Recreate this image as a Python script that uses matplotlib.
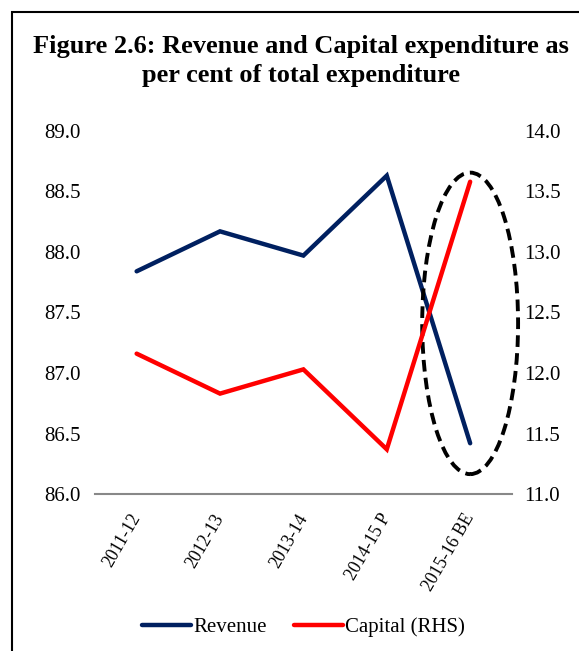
import matplotlib
matplotlib.use("Agg")
import matplotlib.pyplot as plt
from matplotlib.patches import Ellipse, Rectangle
from matplotlib.transforms import ScaledTranslation
import numpy as np

categories = ["2011-12", "2012-13", "2013-14", "2014-15 P", "2015-16 BE"]
revenue = [87.84, 88.17, 87.97, 88.63, 86.42]
capital = [12.16, 11.83, 12.03, 11.37, 13.58]
left_ticks = [86.0, 86.5, 87.0, 87.5, 88.0, 88.5, 89.0]
right_ticks = [11.0, 11.5, 12.0, 12.5, 13.0, 13.5, 14.0]

plt.rcParams['font.family'] = ['Liberation Serif', 'DejaVu Serif']

fig = plt.figure(figsize=(5.79, 6.51), dpi=100)
ax = fig.add_axes([0.164, 0.241, 0.720, 0.558])
ax2 = ax.twinx()

x = np.arange(len(categories))
l1, = ax.plot(x, revenue, color="#002060", lw=3.2, solid_capstyle="round", solid_joinstyle="miter", label="Revenue")
l2, = ax2.plot(x, capital, color="#FF0000", lw=3.2, solid_capstyle="round", solid_joinstyle="miter", label="Capital (RHS)")

ax.set_xlim(-0.5, len(categories) - 0.5)
ax.set_ylim(86.0, 89.0)
ax2.set_ylim(11.0, 14.0)
ax.set_yticks(left_ticks)
ax.set_yticklabels([f"{v:.1f}" for v in left_ticks])
ax2.set_yticks(right_ticks)
ax2.set_yticklabels([f"{v:.1f}" for v in right_ticks])
ax.set_xticks(x)
ax.set_xticklabels(categories, rotation=60, ha="right", va="top", rotation_mode="anchor")

for a in (ax, ax2):
    for s in a.spines.values():
        s.set_visible(False)
    a.tick_params(length=0, labelsize=15)
ax.spines["bottom"].set_visible(True)
ax.spines["bottom"].set_color("#888888")
ax.spines["bottom"].set_linewidth(1.5)
ax.tick_params(axis="y", pad=10)
ax2.tick_params(axis="y", pad=9)
ax.tick_params(axis="x", pad=12, labelsize=12.8)
offset = ScaledTranslation(-7 / 100, 0, fig.dpi_scale_trans)
for lbl in ax.get_xticklabels():
    lbl.set_transform(lbl.get_transform() + offset)

# dashed ellipse highlighting the last point
ell = Ellipse((4, 87.41), width=1.15, height=2.49, fill=False, edgecolor="black",
              lw=2.8, linestyle=(0, (3, 1.6)), transform=ax.transData, clip_on=False, zorder=5)
ax.add_patch(ell)

fig.text(0.52, 0.906, "Figure 2.6: Revenue and Capital expenditure as\nper cent of total expenditure",
         ha="center", va="center", fontsize=19, fontweight="bold", linespacing=1.3)

fig.legend(handles=[l1, l2], loc="center", bbox_to_anchor=(0.524, 0.036), ncol=2, frameon=False,
           fontsize=15, handlelength=2.35, handletextpad=0.1, columnspacing=1.3)

# border frame
fig.add_artist(Rectangle((12/579, -0.1), 1.2, 1 - 12/651 + 0.1, transform=fig.transFigure,
                         fill=False, edgecolor="black", lw=1.5))

fig.savefig("out.png", dpi=100)
